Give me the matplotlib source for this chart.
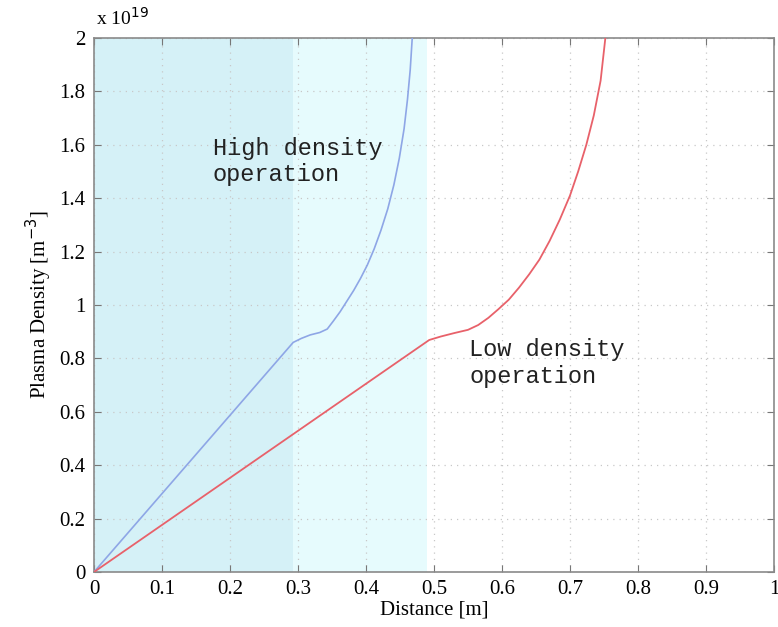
import matplotlib
matplotlib.use("Agg")
import numpy as np
from matplotlib import pyplot as plt

# Dichte-Profile (Einheit: 1e19 m^-3)
high_x = [0.0, 0.293, 0.305, 0.318, 0.332, 0.343, 0.352, 0.362, 0.372, 0.382, 0.392,
          0.402, 0.412, 0.422, 0.432, 0.441, 0.449, 0.456, 0.461, 0.465, 0.468]
high_y = [0.0, 0.86, 0.875, 0.888, 0.897, 0.91, 0.94, 0.975, 1.015, 1.055, 1.10,
          1.15, 1.21, 1.28, 1.36, 1.45, 1.55, 1.66, 1.77, 1.88, 2.0]
low_x = [0.0, 0.493, 0.51, 0.53, 0.55, 0.565, 0.58, 0.595, 0.61, 0.625, 0.64,
         0.655, 0.67, 0.685, 0.70, 0.712, 0.724, 0.735, 0.745, 0.752]
low_y = [0.0, 0.869, 0.882, 0.895, 0.907, 0.925, 0.952, 0.985, 1.02, 1.065, 1.115,
         1.17, 1.24, 1.32, 1.41, 1.50, 1.60, 1.71, 1.84, 2.0]

# Schattierte Bereiche
dark_span = (0.0, 0.292)
light_span = (0.292, 0.49)

x_ticks = [0, 0.1, 0.2, 0.3, 0.4, 0.5, 0.6, 0.7, 0.8, 0.9, 1]
x_labels = ["0", "0.1", "0.2", "0.3", "0.4", "0.5", "0.6", "0.7", "0.8", "0.9", "1"]
y_ticks = [0, 0.2, 0.4, 0.6, 0.8, 1.0, 1.2, 1.4, 1.6, 1.8, 2.0]
y_labels = ["0", "0.2", "0.4", "0.6", "0.8", "1", "1.2", "1.4", "1.6", "1.8", "2"]

serif = ["Liberation Serif", "DejaVu Serif"]
mono = ["Liberation Mono", "DejaVu Sans Mono"]

fig = plt.figure(figsize=(7.78, 6.27), dpi=100)
ax = fig.add_axes([94 / 778, 1 - 572 / 627, 680 / 778, 534 / 627])

ax.axvspan(*dark_span, color="#d5f1f7", lw=0, zorder=0)
ax.axvspan(*light_span, color="#e6fbfd", lw=0, zorder=0)

ax.plot(high_x, high_y, color="#8ea6e6", lw=1.2, zorder=3)
ax.plot(low_x, low_y, color="#e8616a", lw=1.3, zorder=3)

ax.set_xlim(0, 1)
ax.set_ylim(0, 2)
ax.set_xticks(x_ticks)
ax.set_xticklabels(x_labels, family=serif, fontsize=15)
ax.set_yticks(y_ticks)
ax.set_yticklabels(y_labels, family=serif, fontsize=15)
ax.tick_params(direction="in", length=5, color="#777777", pad=6)
ax.tick_params(top=True, right=True)
ax.grid(True, linestyle=(0, (1, 4)), color="#c8c8c8", lw=0.9)
for s in ax.spines.values():
    s.set_color("#8a8a8a")
    s.set_linewidth(1.2)

ax.set_xlabel("Distance [m]", family=serif, fontsize=15, labelpad=1)
ax.set_ylabel("Plasma Density [m$^{-3}$]", family=serif, fontsize=15, labelpad=4)

ax.text(0.003, 1.017, r"x 10$^{19}$", transform=ax.transAxes, family=serif,
        fontsize=14, va="bottom", ha="left")

ax.text(0.175, 1.63, "High density\noperation", family=mono, fontsize=17,
        va="top", ha="left", linespacing=1.2, color="#222222")
ax.text(0.552, 0.875, "Low density\noperation", family=mono, fontsize=17,
        va="top", ha="left", linespacing=1.2, color="#222222")

fig.savefig("out.png", dpi=100)
plt.close(fig)
